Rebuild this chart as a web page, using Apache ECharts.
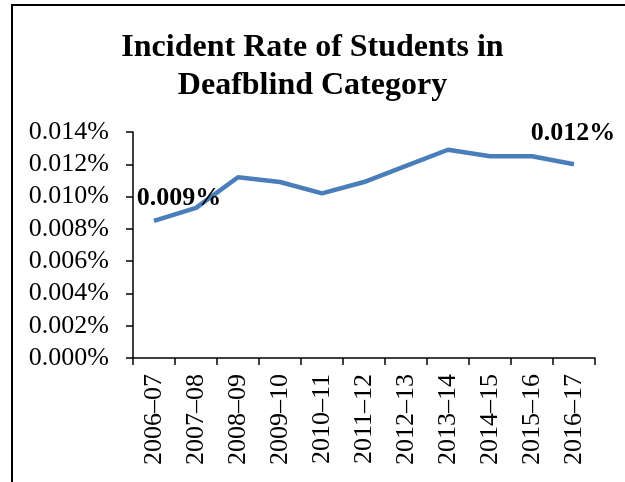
<!DOCTYPE html>
<html>
<head>
<meta charset="utf-8">
<style>html,body{margin:0;padding:0;background:#fff;}#chart{width:625px;height:482px;}</style>
<script src="https://cdn.jsdelivr.net/npm/echarts@6/dist/echarts.min.js"></script>
</head>
<body>
<div id="chart"></div>
<script>
const titleText = 'Incident Rate of Students in\nDeafblind Category';
const categories = ['2006\u201307','2007\u201308','2008\u201309','2009\u201310','2010\u201311','2011\u201312','2012\u201313','2013\u201314','2014\u201315','2015\u201316','2016\u201317'];
const rates = [0.0085, 0.0093, 0.0112, 0.0109, 0.0102, 0.0109, 0.0119, 0.0129, 0.0125, 0.0125, 0.0120];
const labeledPoints = {0: [25, -23], 10: [-1, -31]};

const serif = '"Liberation Serif", "Times New Roman", serif';
const chart = echarts.init(document.getElementById('chart'), null, {renderer: 'canvas'});
const seriesData = rates.map((v, i) => {
  const item = {value: v};
  if (labeledPoints[i]) {
    item.label = {show: true, position: 'inside', offset: labeledPoints[i],
      formatter: p => p.value.toFixed(3) + '%',
      fontFamily: serif, fontSize: 26, fontWeight: 'bold', color: '#000'};
  }
  return item;
});
chart.setOption({
  animation: false,
  backgroundColor: '#fff',
  title: {
    text: titleText, left: 'center', top: 24,
    textStyle: {fontFamily: serif, fontSize: 32, fontWeight: 'bold', color: '#000', lineHeight: 38}
  },
  graphic: [{type: 'rect', shape: {x: 12, y: 5, width: 700, height: 600},
    style: {fill: 'none', stroke: '#000', lineWidth: 2}, silent: true}],
  grid: {left: 133, right: 30, top: 132, bottom: 124, containLabel: false},
  xAxis: {
    type: 'category', data: categories, boundaryGap: true,
    axisLine: {lineStyle: {color: '#000', width: 1.5}},
    axisTick: {show: true, length: 7, lineStyle: {color: '#000', width: 1.5}},
    axisLabel: {rotate: 90, margin: 16, interval: 0, fontFamily: serif, fontSize: 26, color: '#000'},
    splitLine: {show: false}
  },
  yAxis: {
    type: 'value', min: 0, max: 0.014, interval: 0.002,
    axisLine: {show: true, lineStyle: {color: '#000', width: 1.5}},
    axisTick: {show: true, length: 7, lineStyle: {color: '#000', width: 1.5}},
    axisLabel: {formatter: v => v.toFixed(3) + '%', margin: 24, fontFamily: serif, fontSize: 26, color: '#000'},
    splitLine: {show: false}
  },
  series: [{
    type: 'line', data: seriesData, symbol: 'circle', symbolSize: 0, showSymbol: true,
    lineStyle: {color: '#4a7ebb', width: 4.5},
    itemStyle: {color: '#4a7ebb'}
  }]
});
</script>
</body>
</html>
